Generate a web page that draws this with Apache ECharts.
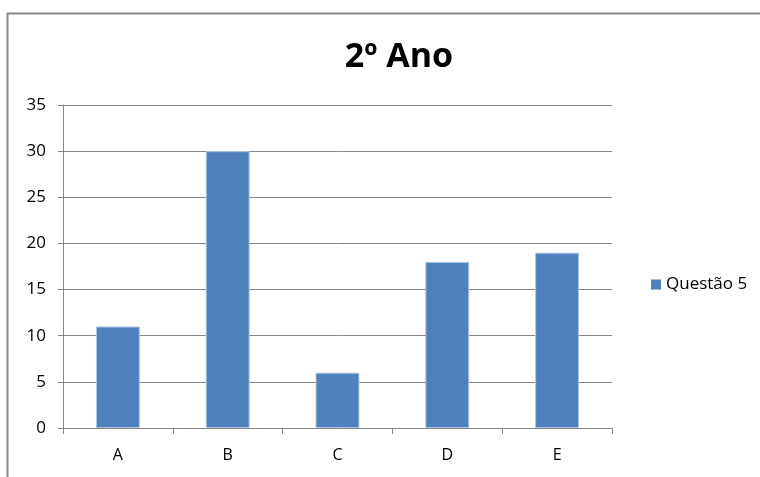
<!DOCTYPE html>
<html>
<head>
<meta charset="utf-8">
<script src="https://cdn.jsdelivr.net/npm/echarts@6/dist/echarts.min.js"></script>
<style>
  html, body { margin: 0; padding: 0; background: #fff; }
  #chart { width: 760px; height: 477px; }
</style>
</head>
<body>
<div id="chart"></div>
<script>
// Answers to question 5, 2nd year
const categories = ['A', 'B', 'C', 'D', 'E'];
const seriesName = 'Questão 5';
const values = [11, 30, 6, 18, 19];
const yTicks = { min: 0, max: 35, interval: 5 };

const font = '"Open Sans", sans-serif';
const chart = echarts.init(document.getElementById('chart'));
chart.setOption({
  animation: false,
  title: {
    text: '2º Ano',
    left: 394,
    top: 35,
    textAlign: 'center',
    textStyle: { fontFamily: font, fontSize: 34, fontWeight: 'bold', color: '#000' }
  },
  graphic: [{
    type: 'rect',
    shape: { x: 7.5, y: 13.5, width: 800, height: 500 },
    style: { fill: 'none', stroke: '#888', lineWidth: 2 },
    silent: true
  }],
  legend: {
    data: [{ name: seriesName, itemStyle: { borderWidth: 0 } }],
    left: 646,
    top: 271,
    itemWidth: 10,
    itemHeight: 10,
    itemGap: 6,
    icon: 'rect',
    textStyle: { fontFamily: font, fontSize: 17, color: '#000' }
  },
  grid: { left: 63, right: 148, top: 105, bottom: 49, containLabel: false },
  xAxis: {
    type: 'category',
    data: categories,
    axisLine: { lineStyle: { color: '#868686', width: 1 } },
    axisTick: { show: true, length: 6, lineStyle: { color: '#868686' } },
    axisLabel: { fontFamily: font, fontSize: 16, color: '#000', margin: 19 }
  },
  yAxis: {
    type: 'value',
    min: yTicks.min,
    max: yTicks.max,
    interval: yTicks.interval,
    axisLine: { show: true, lineStyle: { color: '#868686', width: 1 } },
    axisTick: { show: true, length: 5, lineStyle: { color: '#868686' } },
    axisLabel: { fontFamily: font, fontSize: 17, color: '#000', margin: 17 },
    splitLine: { lineStyle: { color: '#868686', width: 1 } }
  },
  series: [{
    name: seriesName,
    type: 'bar',
    data: values,
    barWidth: '40%',
    itemStyle: { color: '#4F81BD', borderColor: '#AFC6E2', borderWidth: 1 }
  }]
});
</script>
</body>
</html>
